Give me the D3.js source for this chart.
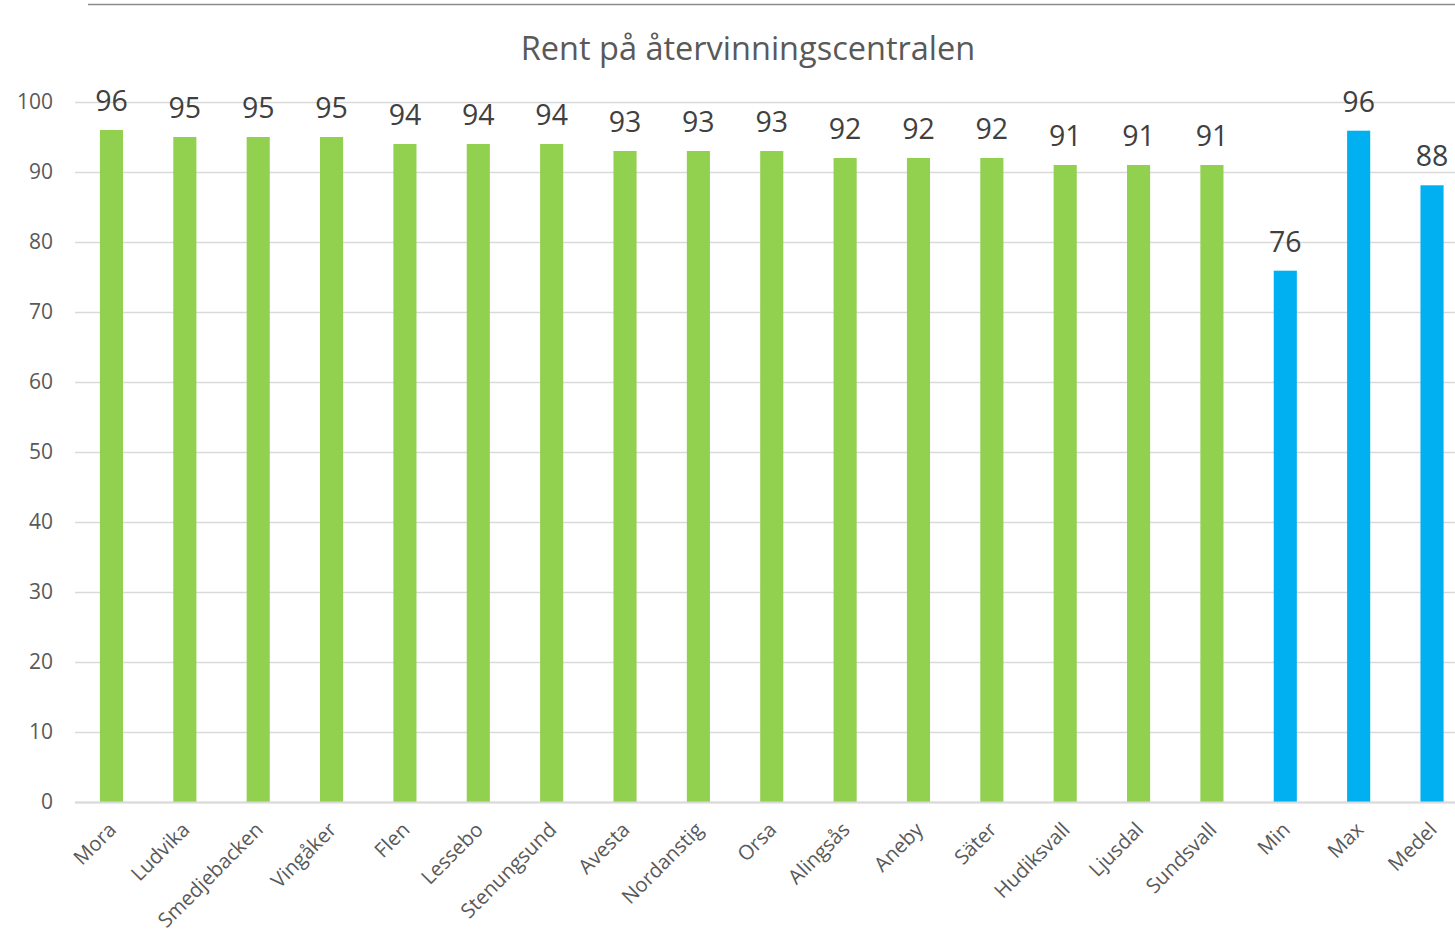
<!DOCTYPE html>
<html><head><meta charset="utf-8">
<script src="https://cdn.jsdelivr.net/npm/d3@7"></script>
<style>body{margin:0;background:#fff}svg{display:block}</style>
</head><body>
<svg id="c" width="1455" height="936"></svg>
<script>
const categories = ["Mora","Ludvika","Smedjebacken","Vingåker","Flen","Lessebo","Stenungsund","Avesta","Nordanstig","Orsa","Alingsås","Aneby","Säter","Hudiksvall","Ljusdal","Sundsvall","Min","Max","Medel"];
const values = [96,95,95,95,94,94,94,93,93,93,92,92,92,91,91,91,75.9,95.9,88.1];
const groups = ["k","k","k","k","k","k","k","k","k","k","k","k","k","k","k","k","s","s","s"];
const yTicks = [0,10,20,30,40,50,60,70,80,90,100];
const title = "Rent på återvinningscentralen";

const svg = d3.select("#c");
const font = "'Open Sans', sans-serif";
const x = d3.scaleBand().domain(categories).range([74.8, 1468.7]).paddingInner(0.685).paddingOuter(0.3425);
const y = d3.scaleLinear().domain([0,100]).range([802,102]);
const color = g => g === "k" ? "#92d050" : "#00b0f0";

svg.append("line").attr("x1",88).attr("x2",1455).attr("y1",4.5).attr("y2",4.5).attr("stroke","#8c8c8c").attr("stroke-width",1.5);

svg.append("text").attr("x",748).attr("y",60).attr("text-anchor","middle")
  .attr("font-family",font).attr("font-size",32.5).attr("fill","#595959").text(title);

const yAxis = svg.append("g").attr("transform","translate(75,0)")
  .call(d3.axisLeft(y).tickValues(yTicks).tickSize(-1400).tickPadding(22));
yAxis.select(".domain").remove();
yAxis.selectAll(".tick line").attr("stroke","#d9d9d9").attr("stroke-width",1.5);
yAxis.selectAll(".tick text").attr("font-family",font).attr("font-size",21).attr("fill","#595959");

svg.append("g").selectAll("rect").data(categories).join("rect")
  .attr("x",d=>x(d)).attr("width",x.bandwidth())
  .attr("y",(d,i)=>y(values[i])).attr("height",(d,i)=>y(0)-y(values[i]))
  .attr("fill",(d,i)=>color(groups[i]));

svg.append("line").attr("x1",75).attr("x2",1455).attr("y1",802.5).attr("y2",802.5).attr("stroke","#d9d9d9").attr("stroke-width",2);

svg.append("g").selectAll("text").data(categories).join("text")
  .attr("x",d=>x(d)+x.bandwidth()/2).attr("y",(d,i)=>y(values[i])-19)
  .attr("text-anchor","middle").attr("font-family",font).attr("font-size",28.5).attr("fill","#404040")
  .text((d,i)=>d3.format(".0f")(values[i]));

svg.append("g").selectAll("text").data(categories).join("text")
  .attr("transform",d=>`translate(${x(d)+x.bandwidth()/2+6},${831}) rotate(-45)`)
  .attr("text-anchor","end").attr("font-family",font).attr("font-size",20.3).attr("fill","#595959")
  .text(d=>d);
</script>
</body></html>
